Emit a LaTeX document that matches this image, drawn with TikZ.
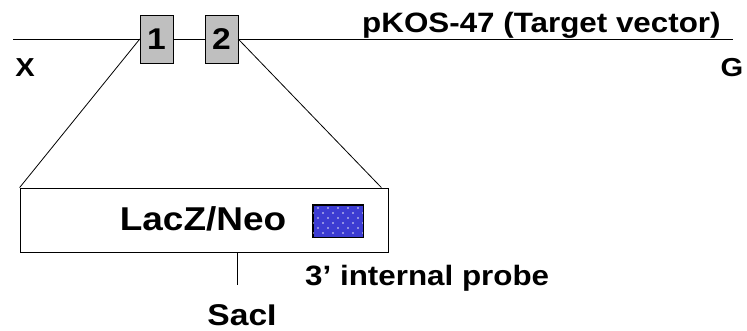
\documentclass[tikz,border=0pt]{standalone}
\usepackage{fontspec}
\setmainfont[FakeStretch=1.12]{Liberation Sans}
\usepackage{xcolor}
\usetikzlibrary{positioning}
\definecolor{probeblue}{RGB}{60,60,210}
\tikzset{
    exon/.style = {rectangle, draw = black, fill = black!25, minimum width = 33pt, minimum height = 48pt, inner sep = 0pt, font = \bfseries\fontsize{30}{30}\selectfont},
    label/.style = {inner sep = 0pt, font = \bfseries\fontsize{28}{28}\selectfont},
    cassette/.style = {rectangle, draw = black, thick, minimum width = 368pt, minimum height = 64pt, inner sep = 0pt},
    probe/.style = {rectangle, draw = black, thick, fill = probeblue, minimum width = 50pt, minimum height = 32pt, inner sep = 0pt},
    speck/.style = {fill = white!85!probeblue},
    line/.style = {thick}
}
\begin{document}
\begin{tikzpicture}[x = 1pt, y = -1pt]
        \useasboundingbox (0,0) rectangle (747,331);
        % vector
        \coordinate (xend) at (13,39);
        \coordinate (gend) at (733,39);
        \draw [line] (xend) -- (gend);
        \node [exon] (e1) at (156.5,39) {1};
        \node [exon] (e2) at (221.5,39) {2};
        \node [label, anchor = base, font = \bfseries\fontsize{26}{26}\selectfont] (x) at (25,77) {X};
        \node [label, anchor = base, font = \bfseries\fontsize{26}{26}\selectfont] (g) at (732,77) {G};
        \node [label, anchor = base west] (title) at (362,33) {pKOS-47 (Target vector)};
        % cassette
        \node [cassette] (lacz) at (204,220) {};
        \node [label, anchor = base, font = \bfseries\fontsize{33}{33}\selectfont] (lacztext) at (203,230) {LacZ/Neo};
        \node [probe] (pr) at (338,221) {};
        \begin{scope}
            \clip (pr.north west) rectangle (pr.south east);
            \foreach \r in {0,...,5} {
                \pgfmathsetmacro{\sx}{mod(\r,2) == 0 ? 318 : 313}
                \foreach \c in {0,...,5}
                    \fill [speck] (\sx + 10*\c, 208 + 5*\r) circle (0.9pt);
            }
        \end{scope}
        \draw [thick] (pr.north west) rectangle (pr.south east);
        \node [label, anchor = base west] (prtext) at (305,285) {3’ internal probe};
        \coordinate (sacsite) at (237,285);
        \node [label, anchor = base, font = \bfseries\fontsize{30}{30}\selectfont] (sac) at (242,325) {SacI};
        \draw [line] (e1.west |- xend) -- (lacz.north west);
        \draw [line] (e2.east |- xend) -- ([xshift = -7pt] lacz.north east);
        \draw [line] (lacz.south -| sacsite) -- (sacsite);
    \end{tikzpicture}
\end{document}
